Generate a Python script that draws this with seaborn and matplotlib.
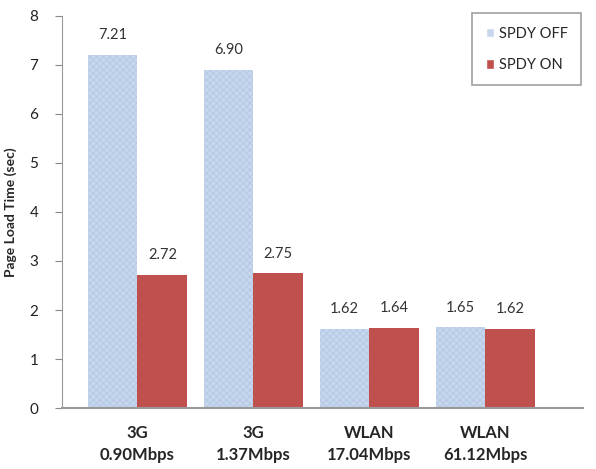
import pandas as pd
import matplotlib.pyplot as plt
import seaborn as sns

# values
networks = ["3G\n0.90Mbps", "3G\n1.37Mbps", "WLAN\n17.04Mbps", "WLAN\n61.12Mbps"]
spdy_off = [7.21, 6.90, 1.62, 1.65]
spdy_on = [2.72, 2.75, 1.64, 1.62]
series = ["SPDY OFF", "SPDY ON"]
yticks = [0, 1, 2, 3, 4, 5, 6, 7, 8]

df = pd.DataFrame({
    "network": networks * 2,
    "time": spdy_off + spdy_on,
    "mode": [series[0]] * 4 + [series[1]] * 4,
})

sns.set_style("white")
plt.rcParams["font.family"] = ["Lato", "DejaVu Sans"]
plt.rcParams["hatch.color"] = "#9fb8dc"
plt.rcParams["hatch.linewidth"] = 0.6

fig = plt.figure(figsize=(5.96, 4.69), dpi=100)
ax = fig.add_axes([0.104, 0.130, 0.874, 0.836])

sns.barplot(data=df, x="network", y="time", hue="mode",
            palette=["#c6d6ec", "#c0504d"], width=0.86, gap=0,
            saturation=1, ax=ax)

# hatched pattern on the SPDY OFF bars
for bar in ax.containers[0]:
    bar.set_hatch("xxxxx")
    bar.set_edgecolor("#b3c8e6")
    bar.set_linewidth(0)
for bar in ax.containers[1]:
    bar.set_edgecolor("#c0504d")
    bar.set_linewidth(0)

for cont in ax.containers:
    ax.bar_label(cont, fmt="%.2f", padding=9, fontsize=10.5, color="#333333")

ax.set_ylim(0, 8)
ax.set_yticks(yticks)
ax.set_xlim(-0.65, 3.84)
ax.set_ylabel("Page Load Time (sec)", fontsize=10, fontweight="bold", labelpad=9)
ax.set_xlabel("")
ax.tick_params(axis="y", length=5, direction="out", left=True, color="#888888",
               labelsize=11, labelcolor="#222222", pad=12)
ax.tick_params(axis="x", length=0, labelsize=12, pad=12)
for lbl in ax.get_xticklabels():
    lbl.set_fontweight("bold")
    lbl.set_linespacing(1.5)

for s in ["top", "right"]:
    ax.spines[s].set_visible(False)
ax.spines["left"].set_color("#999999")
ax.spines["bottom"].set_color("#999999")
ax.spines["bottom"].set_linewidth(1.5)

leg = ax.legend(loc="upper right", bbox_to_anchor=(1.01, 1.025), fontsize=10.5,
                frameon=True, fancybox=False, edgecolor="#888888",
                handlelength=0.6, handleheight=0.6, handletextpad=0.3,
                labelspacing=1.2, borderpad=0.9)
leg.get_frame().set_linewidth(1.2)

fig.savefig("out.png", dpi=100)
